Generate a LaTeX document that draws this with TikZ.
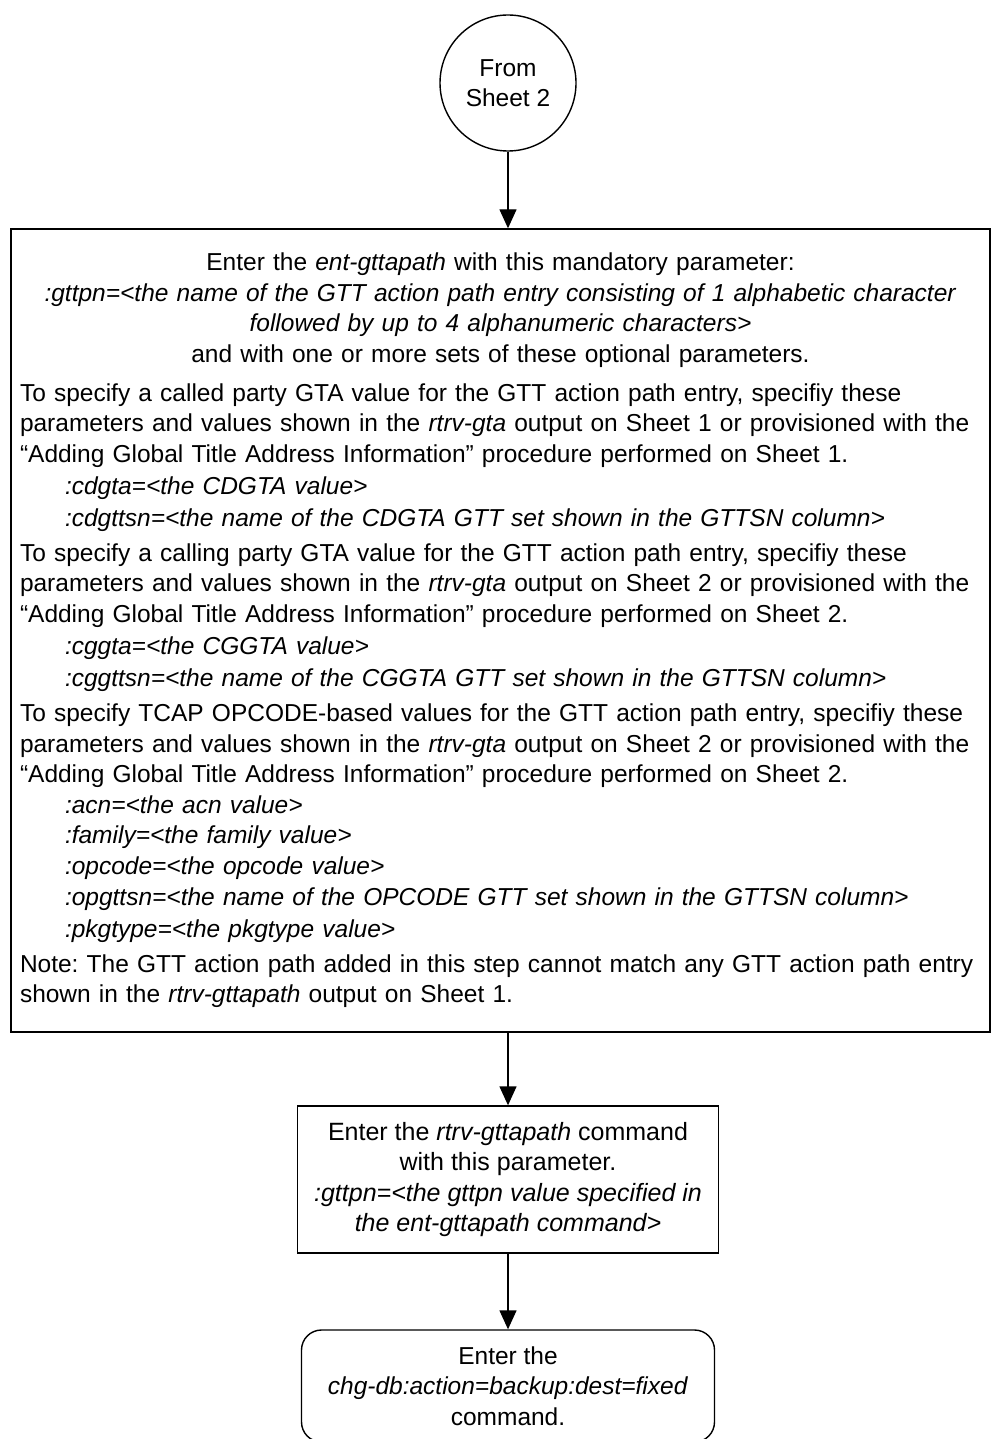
\documentclass[tikz,border=0pt]{standalone}
\usepackage{fontspec}
\setmainfont{Liberation Sans}
\usetikzlibrary{arrows.meta,positioning,shapes.geometric}
\frenchspacing

\begin{document}
\begin{tikzpicture}[x=1pt, y=-1pt,
    offpage/.style={circle, draw=black, line width=1.4pt, minimum size=136pt, inner sep=0pt, align=center, font=\fontsize{24.5}{30.5}\selectfont},
    process/.style={rectangle, draw=black, line width=1.4pt, inner sep=0pt, font=\fontsize{24.5}{30.5}\selectfont},
    terminal/.style={process, rounded corners=20pt},
    arrow/.style={-{Triangle[width=17pt,length=19pt]}, line width=1.4pt}
]
\useasboundingbox (0,0) rectangle (991,1439);

\node[offpage] (sheet) at (508,83) {From\\Sheet 2};

\node[process, minimum width=979pt, minimum height=803pt, text width=961pt] (entpath) at (500.5,630.5) {%
{\centering
Enter the \textit{ent-gttapath} with this mandatory parameter:\\
\textit{:gttpn=<the name of the GTT action path entry consisting of 1 alphabetic character}\\
\textit{followed by up to 4 alphanumeric characters>}\\
and with one or more sets of these optional parameters.\par}
\raggedright
\vspace{8.5pt}
To specify a called party GTA value for the GTT action path entry, specifiy these\\
parameters and values shown in the \textit{rtrv-gta} output on Sheet 1 or provisioned with the\\
“Adding Global Title Address Information” procedure performed on Sheet 1.\\[1.5pt]
\hspace*{45pt}\textit{:cdgta=<the CDGTA value>}\\[1.5pt]
\hspace*{45pt}\textit{:cdgttsn=<the name of the CDGTA GTT set shown in the GTTSN column>}\\[4.5pt]
To specify a calling party GTA value for the GTT action path entry, specifiy these\\
parameters and values shown in the \textit{rtrv-gta} output on Sheet 2 or provisioned with the\\
“Adding Global Title Address Information” procedure performed on Sheet 2.\\[2pt]
\hspace*{45pt}\textit{:cggta=<the CGGTA value>}\\[1.5pt]
\hspace*{45pt}\textit{:cggttsn=<the name of the CGGTA GTT set shown in the GTTSN column>}\\[4.5pt]
To specify TCAP OPCODE-based values for the GTT action path entry, specifiy these\\
parameters and values shown in the \textit{rtrv-gta} output on Sheet 2 or provisioned with the\\
“Adding Global Title Address Information” procedure performed on Sheet 2.\\
\hspace*{45pt}\textit{:acn=<the acn value>}\\
\hspace*{45pt}\textit{:family=<the family value>}\\
\hspace*{45pt}\textit{:opcode=<the opcode value>}\\[0.5pt]
\hspace*{45pt}\textit{:opgttsn=<the name of the OPCODE GTT set shown in the GTTSN column>}\\[1.5pt]
\hspace*{45pt}\textit{:pkgtype=<the pkgtype value>}\\[4.5pt]
Note: The GTT action path added in this step cannot match any GTT action path entry\\
shown in the \textit{rtrv-gttapath} output on Sheet 1.};

\node[process, minimum width=421pt, minimum height=147pt, align=center, font=\fontsize{25}{30.5}\selectfont] (rtrvpath) at (508,1179.5) {Enter the \textit{rtrv-gttapath} command\\with this parameter.\\\textit{:gttpn=<the gttpn value specified in}\\\textit{the ent-gttapath command>}};

\node[terminal, minimum width=413pt, minimum height=112pt, align=center] (chgdb) at (508,1386) {Enter the\\\textit{chg-db:action=backup:dest=fixed}\\command.};

\draw[arrow] (sheet.south) -- (sheet.south |- entpath.north);
\draw[arrow] (rtrvpath.north |- entpath.south) -- (rtrvpath.north);
\draw[arrow] (rtrvpath.south) -- (chgdb.north);

\end{tikzpicture}
\end{document}
